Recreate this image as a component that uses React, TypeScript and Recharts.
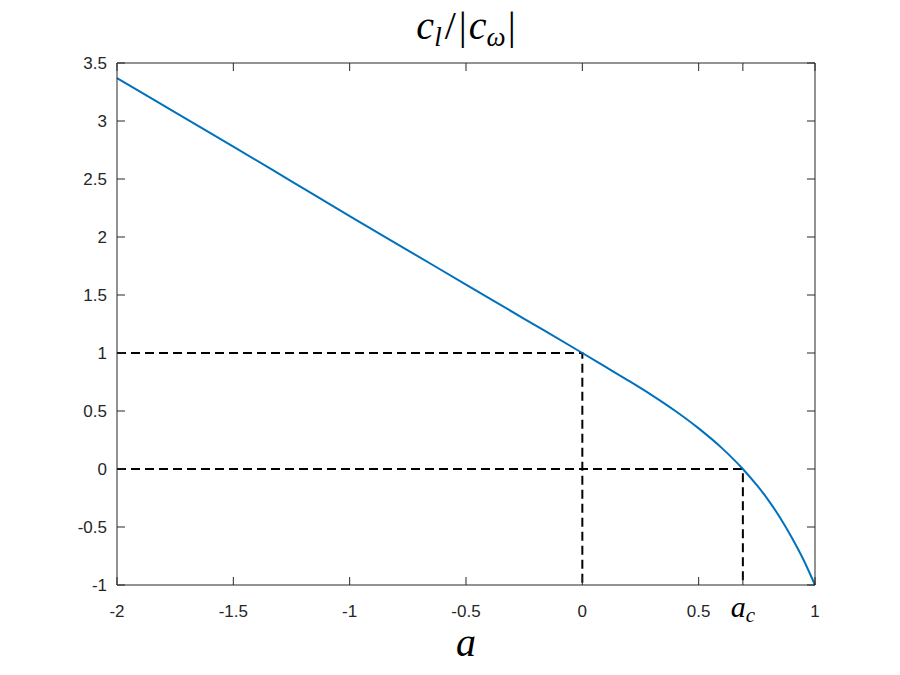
import { LineChart, Line, XAxis, YAxis } from 'recharts';

// a values and c_l/|c_w|
const aValues = [-2, -1.75, -1.5, -1.25, -1, -0.75, -0.5, -0.25, 0, 0.1, 0.2, 0.3, 0.4, 0.5, 0.6, 0.69, 0.75, 0.8, 0.85, 0.9, 0.95, 1];
const clValues = [3.37, 3.075, 2.78, 2.48, 2.18, 1.885, 1.59, 1.295, 1.0, 0.88, 0.76, 0.635, 0.5, 0.35, 0.18, 0.0, -0.14, -0.27, -0.42, -0.59, -0.78, -1.0];

const aCrit = 0.69;
const xTicks = [-2, -1.5, -1, -0.5, 0, 0.5, aCrit, 1];
const yTicks = [-1, -0.5, 0, 0.5, 1, 1.5, 2, 2.5, 3, 3.5];

// dashed guides: (0,1) and (a_c,0)
const guideOneA = [-2, 0, 0];
const guideOneV = [1, 1, -1];
const guideTwoA = [-2, aCrit, aCrit];
const guideTwoV = [0, 0, -1];

const data = aValues.map((a, i) => ({ a, v: clValues[i] }));
const guideOne = guideOneA.map((a, i) => ({ a, v: guideOneV[i] }));
const guideTwo = guideTwoA.map((a, i) => ({ a, v: guideTwoV[i] }));

const axisColor = '#262626';
const tickLen = 8;
const sans = '"Liberation Sans", Arial, sans-serif';
const serif = '"Liberation Serif", "Times New Roman", serif';

function BottomTick(props: any) {
  const { x, y, payload } = props;
  const isAc = payload.value === aCrit;
  return (
    <g>
      <line x1={x} y1={y} x2={x} y2={y - tickLen} stroke={axisColor} />
      {isAc ? (
        <text x={x} y={y + 32} textAnchor="middle" fontFamily={serif} fontStyle="italic" fontSize={30} fill="#000">
          a<tspan fontSize={21} dy={5}>c</tspan>
        </text>
      ) : (
        <text x={x} y={y + 32} textAnchor="middle" fontFamily={sans} fontSize={17} fill={axisColor}>
          {String(payload.value)}
        </text>
      )}
    </g>
  );
}

function TopTick(props: any) {
  const { x, y } = props;
  return <line x1={x} y1={y} x2={x} y2={y + tickLen} stroke={axisColor} />;
}

function LeftTick(props: any) {
  const { x, y, payload } = props;
  return (
    <g>
      <line x1={x} y1={y} x2={x + tickLen} y2={y} stroke={axisColor} />
      <text x={x - 10} y={y + 6} textAnchor="end" fontFamily={sans} fontSize={17} fill={axisColor}>
        {String(payload.value)}
      </text>
    </g>
  );
}

function RightTick(props: any) {
  const { x, y } = props;
  return <line x1={x} y1={y} x2={x - tickLen} y2={y} stroke={axisColor} />;
}

export default function App() {
  return (
    <div style={{ position: 'absolute', left: 0, top: 0, width: 900, height: 675, background: '#fff' }}>
      <LineChart width={900} height={675} margin={{ top: 53, right: 75, bottom: 60, left: 77 }}>
        <XAxis xAxisId="bottom" type="number" dataKey="a" domain={[-2, 1]} ticks={xTicks} interval={0}
          orientation="bottom" height={30} tickSize={0} tickMargin={0} tickLine={false}
          axisLine={{ stroke: axisColor }} tick={BottomTick} />
        <XAxis xAxisId="top" type="number" dataKey="a" domain={[-2, 1]} ticks={xTicks} interval={0}
          orientation="top" height={10} tickSize={0} tickMargin={0} tickLine={false}
          axisLine={{ stroke: axisColor }} tick={TopTick} />
        <YAxis yAxisId="left" type="number" domain={[-1, 3.5]} ticks={yTicks} interval={0}
          orientation="left" width={40} tickSize={0} tickMargin={0} tickLine={false}
          axisLine={{ stroke: axisColor }} tick={LeftTick} />
        <YAxis yAxisId="right" type="number" domain={[-1, 3.5]} ticks={yTicks} interval={0}
          orientation="right" width={10} tickSize={0} tickMargin={0} tickLine={false}
          axisLine={{ stroke: axisColor }} tick={RightTick} />
        <Line xAxisId="top" yAxisId="right" data={guideOne} dataKey="v" type="linear" stroke="#000"
          strokeWidth={2} strokeDasharray="9 5" dot={false} isAnimationActive={false} />
        <Line xAxisId="top" yAxisId="right" data={guideTwo} dataKey="v" type="linear" stroke="#000"
          strokeWidth={2} strokeDasharray="9 5" dot={false} isAnimationActive={false} />
        <Line xAxisId="bottom" yAxisId="left" data={data} dataKey="v" type="monotone" stroke="#0072BD"
          strokeWidth={2} dot={false} isAnimationActive={false} />
      </LineChart>
      <svg width={900} height={675} style={{ position: 'absolute', left: 0, top: 0, pointerEvents: 'none' }}>
        <text x={466} y={39} textAnchor="middle" fontFamily={serif} fontSize={40} fill="#000">
          <tspan fontStyle="italic">c</tspan>
          <tspan fontStyle="italic" fontSize={27} dy={7}>l</tspan>
          <tspan dy={-7} dx={3}>/</tspan>
          <tspan dx={3}>|</tspan>
          <tspan fontStyle="italic" dx={2}>c</tspan>
          <tspan fontStyle="italic" fontSize={27} dy={7}>ω</tspan>
          <tspan dy={-7} dx={2}>|</tspan>
        </text>
        <text x={466} y={656} textAnchor="middle" fontFamily={serif} fontStyle="italic" fontSize={40} fill="#000">
          a
        </text>
      </svg>
    </div>
  );
}
